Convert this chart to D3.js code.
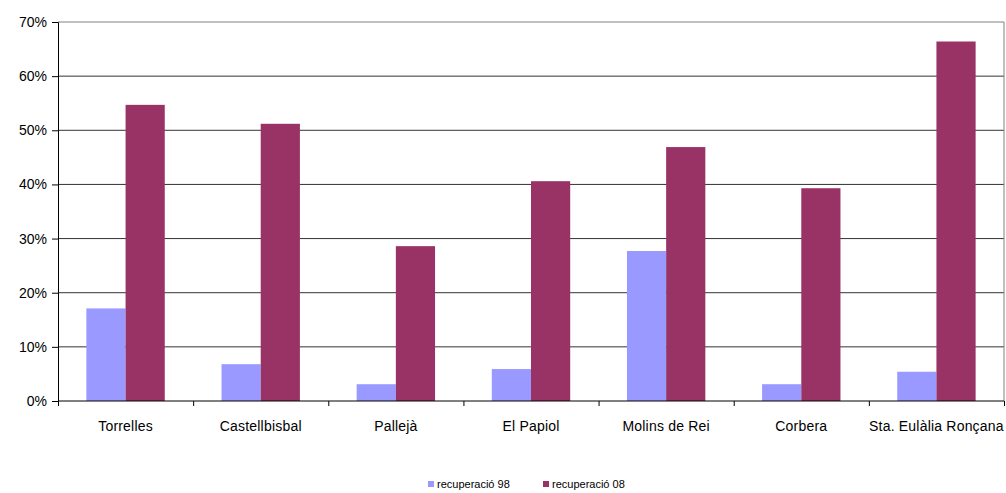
<!DOCTYPE html>
<html>
<head>
<meta charset="utf-8">
<script src="https://cdn.jsdelivr.net/npm/d3@7"></script>
<style>
  body { margin: 0; background: #fff; }
  text { font-family: "Liberation Sans", Arial, sans-serif; fill: #000; }
</style>
</head>
<body>
<div class="chart"></div>
<script>
var categories = ["Torrelles", "Castellbisbal", "Pallejà", "El Papiol", "Molins de Rei", "Corbera", "Sta. Eulàlia Ronçana"];
var seriesNames = ["recuperació 98", "recuperació 08"];
var rec98 = [0.171, 0.068, 0.031, 0.059, 0.277, 0.031, 0.054];
var rec08 = [0.547, 0.512, 0.286, 0.406, 0.469, 0.393, 0.664];
var yTicks = [0, 0.1, 0.2, 0.3, 0.4, 0.5, 0.6, 0.7];
var colors = ["#9999ff", "#993366"];

var svgWidth = 1006;
var svgHeight = 493;
var margin = { top: 22, right: 2, bottom: 92, left: 58 };
var width = svgWidth - margin.left - margin.right;
var height = svgHeight - margin.top - margin.bottom;

var svg = d3.select(".chart")
  .append("svg")
  .attr("width", svgWidth)
  .attr("height", svgHeight);

var chartGroup = svg.append("g")
  .attr("transform", `translate(${margin.left}, ${margin.top})`);

var data = categories.map(function (c, i) {
  return { cat: c, values: [rec98[i], rec08[i]] };
});

// scales
var x0 = d3.scaleBand().domain(categories).range([0, width]).paddingInner(0).paddingOuter(0);
var x1 = d3.scaleBand().domain([0, 1]).range([x0.bandwidth() * 0.21, x0.bandwidth() * 0.79]);
var y = d3.scaleLinear().domain([0, 0.7]).range([height, 0]);

// gridlines
chartGroup.append("g")
  .selectAll("line")
  .data(yTicks.slice(1))
  .enter()
  .append("line")
  .attr("x1", 0)
  .attr("x2", width)
  .attr("y1", d => y(d))
  .attr("y2", d => y(d))
  .attr("stroke", d => d === 0.7 ? "#808080" : "#333")
  .attr("stroke-width", 1);

// right border
chartGroup.append("line")
  .attr("x1", width).attr("x2", width)
  .attr("y1", 0).attr("y2", height)
  .attr("stroke", "#808080");

// bars
var groups = chartGroup.selectAll(".cat")
  .data(data)
  .enter()
  .append("g")
  .attr("transform", d => `translate(${x0(d.cat)}, 0)`);

groups.selectAll("rect")
  .data(d => d.values)
  .enter()
  .append("rect")
  .attr("x", (d, i) => x1(i))
  .attr("width", x1.bandwidth())
  .attr("y", d => y(d))
  .attr("height", d => height - y(d))
  .attr("fill", (d, i) => colors[i]);

// axes
var leftAxis = d3.axisLeft(y).tickValues(yTicks).tickFormat(d3.format(".0%")).tickSize(6).tickPadding(5);
var yAxisG = chartGroup.append("g").call(leftAxis);
yAxisG.select(".domain").attr("stroke", "#000");
yAxisG.selectAll("text").style("font-size", "14px");

var bottomAxis = d3.axisBottom(d3.scaleLinear().domain([0, categories.length]).range([0, width]))
  .tickValues(d3.range(0, categories.length + 1)).tickSize(5).tickFormat("");
var xAxisG = chartGroup.append("g")
  .attr("transform", `translate(0, ${height})`)
  .call(bottomAxis);
xAxisG.select(".domain").attr("stroke", "#000").attr("d", `M0,0H${width}`);

chartGroup.append("g")
  .selectAll("text")
  .data(categories)
  .enter()
  .append("text")
  .attr("x", d => x0(d) + x0.bandwidth() / 2)
  .attr("y", height + 30)
  .attr("text-anchor", "middle")
  .style("font-size", "14px")
  .style("letter-spacing", "0.2px")
  .text(d => d);

// legend
var legend = svg.append("g").attr("transform", "translate(428, 481)");
var legendX = [0, 115];
seriesNames.forEach(function (name, i) {
  var g = legend.append("g").attr("transform", `translate(${legendX[i]}, 0)`);
  g.append("rect").attr("width", 6).attr("height", 6).attr("y", 0).attr("fill", colors[i]);
  g.append("text").attr("x", 9).attr("y", 7).style("font-size", "11px").text(name);
});
</script>
</body>
</html>
